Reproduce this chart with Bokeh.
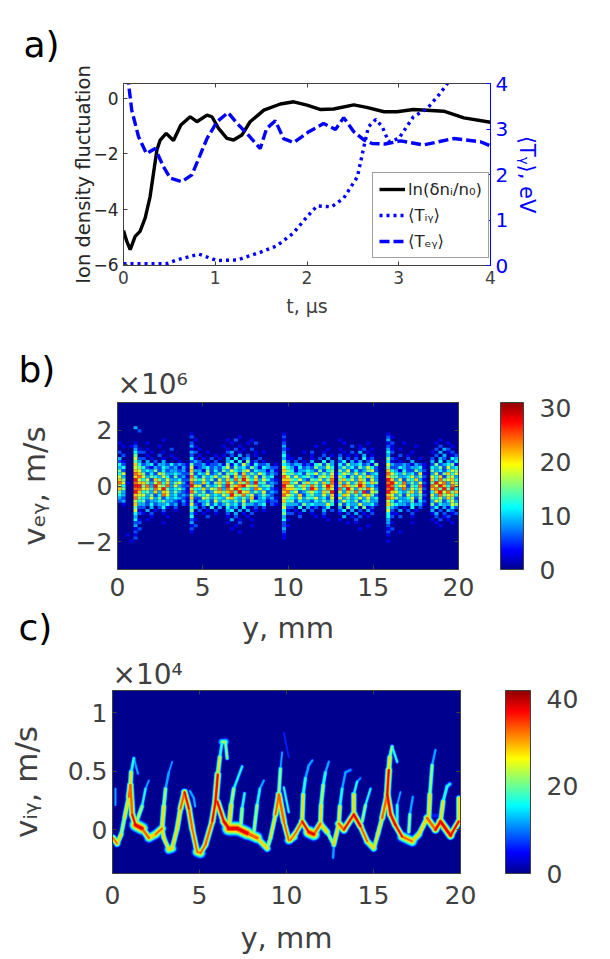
import math
from bokeh.plotting import figure
from bokeh.layouts import column
from bokeh.models import (Range1d, LinearAxis, FixedTicker, Title, Legend, LegendItem, LinearColorMapper,
                          ColorBar, ColumnDataSource)
from bokeh.embed import file_html
from bokeh.resources import INLINE

# ---------- panel a ----------
ni_t = [0,.036,.073,.127,.18,.236,.29,.327,.364,.4,.465,.545,.625,.727,.8,.91,.964,1.036,1.127,1.2,1.29,1.38,1.53,1.71,1.855,2.0,2.15,2.29,2.51,2.65,2.84,2.98,3.16,3.49,3.71,4]
ni_v = [-4.77,-5.16,-5.46,-4.98,-4.8,-4.32,-3.54,-2.7,-1.86,-1.5,-1.26,-1.52,-.96,-.66,-.84,-.6,-.66,-1.08,-1.44,-1.5,-1.32,-.84,-.42,-.2,-.12,-.24,-.4,-.38,-.23,-.32,-.48,-.48,-.4,-.46,-.7,-.86]
tiy_t = [0,.47,.58,.82,1.02,1.24,1.49,1.67,1.85,2,2.11,2.27,2.4,2.55,2.62,2.67,2.75,2.82,2.89,3,3.16,3.31,3.45,3.53,3.6]
tiy_v = [.04,.04,.12,.25,.11,.12,.29,.43,.71,1.07,1.31,1.29,1.48,1.95,2.61,3.05,3.21,3.05,2.72,2.79,3.27,3.45,3.78,4.0,4.3]
tey_t = [.03,.055,.09,.164,.25,.345,.436,.51,.636,.745,.836,.91,1.02,1.14,1.24,1.345,1.49,1.56,1.655,1.745,1.855,2.02,2.18,2.31,2.4,2.51,2.62,2.71,2.85,3.02,3.27,3.6,3.89,4]
tey_v = [4.5,4.0,3.41,2.83,2.46,2.57,2.17,1.92,1.84,1.99,2.43,2.79,3.16,3.36,3.12,2.9,2.57,3.01,3.18,2.79,2.7,2.94,3.12,2.99,3.25,2.94,2.76,2.68,2.67,2.74,2.65,2.79,2.72,2.63]
legend_labels = ["ln(δnᵢ/n₀)", "⟨Tᵢᵧ⟩", "⟨Tₑᵧ⟩"]

# ---------- panel b: counts per cell, one digit = 3 counts, rows from v=+2.2 to -2.2 (x 10^6 m/s) ----------
b_rows = """
00 00 00 00000000000 0 00 0000000000000000000 00 00 00000000000 0 0000000000 00 00 0000000 00 0000000
00 00 30 00000000000 0 00 0000000000000000000 00 00 00000000000 0 0000000000 00 00 0000000 00 0000000
00 00 02 00000000000 0 00 0000000000000000000 00 00 00000000000 0 0000000000 00 00 0000000 00 0000000
00 00 00 00000000000 0 10 0000000000000000000 00 10 00000000000 0 0000000000 00 10 0000000 00 0000000
00 00 00 00000000000 0 20 0000000000100000000 00 20 00000000000 0 0000000000 00 21 0000000 00 0000000
00 00 00 00000100000 0 01 0000000102000100000 00 10 00000000000 0 1000000000 00 30 0000000 00 0010000
10 00 10 01000000000 0 20 0000000010001020000 00 20 00000000100 0 0100000100 00 12 0010000 00 0100100
01 01 20 00001000000 0 31 0000001000100000000 00 30 00000010000 0 0002010000 00 21 0000010 00 0020010
00 00 31 01000002000 0 10 1000000102010200000 00 21 00000000010 0 1000012010 00 31 0100000 00 0203200
20 00 42 20100100000 0 32 0010000230100010100 00 30 00010200100 0 0102030100 00 42 0000100 00 1030120
02 00 50 01002001000 0 20 1000101020302010000 00 41 00000100201 0 2010103010 00 30 0201000 00 0203012
30 00 62 20100100100 0 41 0102010304023002000 00 31 10200102030 0 3020204120 00 52 1002001 00 2032043
21 00 53 03020300010 0 23 2010200340405120100 00 52 02010300403 0 2403130240 00 41 0100300 00 3040324
42 00 74 23413324232 1 52 2312231514263142230 10 43 23312145253 0 4253342315 00 63 2232132 10 2523451
34 00 65 42132432313 1 61 2342324625342531432 20 64 31423253364 0 3534253642 00 52 2432334 10 4352634
52 00 76 34352423323 1 73 3152425364356243313 10 75 41334325245 0 5362423562 00 74 3142253 20 5342465
46 00 87 52426533432 2 62 4362352546273536423 20 64 53425463536 1 4653635234 00 86 4353426 10 3625746
63 00 78 63543642523 1 84 2534635627485362534 00 86 36345325647 1 6425364753 00 75 5334635 20 6472563
75 00 96 46275363342 2 75 4635263748596473642 10 77 54632546358 0 5746375263 00 97 3625473 10 7485674
86 10 87 75368473563 1 83 3742574863758394523 20 88 46257463748 1 7363586475 00 89 6483536 20 5968375
64 00 99 58396583632 2 96 6253463957896573453 00 96 63574853697 1 5875697342 00 98 4672548 10 8697486
75 00 88 67486953453 1 74 4736583869745386342 10 87 75463973586 1 8496375863 00 89 5383647 20 7859594
53 00 97 45373763532 1 85 3523675785967353623 20 78 46235643759 0 6375849265 00 97 6435736 10 4796857
43 00 76 63524863423 2 63 5463436496584623532 00 86 53724533637 1 4763536752 00 76 3526435 20 6385674
32 00 85 43635243432 1 72 2653543674353713423 10 65 43635463426 0 6353463634 00 87 5334625 10 5463752
23 00 64 52334533213 1 51 3342635435362543312 20 74 52433243535 1 3643524533 00 64 2433514 20 3652463
01 00 73 32423342302 1 62 1352423534253323402 10 53 33253433364 0 5243363342 00 75 4332433 10 5243365
00 00 52 20302410200 0 43 0204030423041020200 00 62 20403120240 0 3052405120 00 53 2010402 00 2403142
00 00 61 03010200100 0 50 2010200340303010100 00 41 01030200302 0 2403020310 00 62 0302010 00 3020320
00 00 42 10200100000 0 31 0100100203010200000 00 52 20100100200 0 1020301020 00 41 1000200 00 1302012
00 00 30 00100010000 0 40 0020000102001000000 00 30 00200010100 0 0301020100 00 42 0200100 00 0201200
00 00 41 01000000000 0 21 0000000030100100000 00 41 00000000010 0 1000200000 00 30 0000000 00 1020100
00 00 22 00000100000 0 30 0000000100200000000 00 20 00000000000 0 0010100000 00 31 0000100 00 0100010
00 00 30 00000000000 0 12 0000000001000100000 00 21 00000000000 0 0000000100 00 20 0000000 00 0010000
00 00 12 00000000000 0 20 0000000010000000000 00 30 00000000000 0 0000010000 00 12 0000000 00 0000000
00 00 20 00000000000 0 10 0000000000100000000 00 20 00000000000 0 0000000000 00 20 0100000 00 0000000
00 10 10 00000000000 0 00 0000000000000000000 00 10 00000000000 0 0000000000 00 10 0000000 00 0000000
00 00 20 00000000000 0 00 0000000000000000000 00 10 00000000000 0 0000000000 00 00 0000000 00 0000000
00 01 00 00000000000 0 00 0000000000000000000 00 00 00000000000 0 0000000000 00 10 0000000 00 0000000
00 00 00 00000000000 0 00 0000000000000000000 00 00 00000000000 0 0000000000 00 00 0000000 00 0000000
00 00 00 00000000000 0 00 0000000000000000000 00 00 00000000000 0 0000000000 00 00 0000000 00 0000000
""".strip().splitlines()

# ---------- panel c: ridges as (y mm, v x10^4 m/s, counts) ----------
c_ridges = [
 ([.04,.27,.5,.69,.94,1.03],[-.07,-.12,-.04,.1,.28,.38],[30,30,25,22,30,36]),
 ([1.03,1.07,1.23,1.46],[.38,.49,.61,.48],[30,22,12,10]),
 ([1.03,1.13,1.32,1.7,2.09,2.47,2.85],[.38,.13,.04,.01,-.07,-.04,.01],[36,32,38,38,28,30,32]),
 ([1.32,1.7,1.9,2.09],[.04,.2,.35,.42],[28,18,12,8]),
 ([2.85,2.95,3.05,3.24,3.43],[.01,.2,.35,.49,.58],[28,28,16,10,8]),
 ([2.85,2.95,3.24,3.43,3.72,3.91,4.14,4.39,4.58,4.87,5.06,5.34,5.73,5.92,6.05],[.01,-.07,-.17,-.16,.01,.18,.32,.18,.01,-.19,-.2,-.13,.07,.24,.47],[28,26,26,28,26,30,36,34,32,30,30,32,34,36,36]),
 ([6.05,6.17,6.3,6.49,6.59],[.47,.62,.75,.75,.61],[30,20,14,26,12]),
 ([6.02,6.4,6.69,7.16,7.74,8.31,8.89,9.08,9.37,9.56,9.85,10.13,10.42,10.8],[.24,.07,.01,.01,-.03,-.07,-.16,-.07,.13,.3,.07,-.09,-.06,.04],[34,38,38,40,38,30,26,22,28,36,32,30,28,28]),
 ([9.56,9.65,9.75],[.3,.52,.66],[30,12,8]),
 ([9.85,10.13],[.83,.62],[5,5]),
 ([9.85,10.13],[.36,.15],[14,14]),
 ([6.69,6.82,6.97,7.45],[.01,.21,.35,.54],[32,26,20,10]),
 ([7.36,7.45,7.59],[.01,.18,.31],[26,20,12]),
 ([8.12,8.31,8.47,8.7],[-.03,.21,.35,.42],[26,18,14,8]),
 ([4.45,4.67,4.75],[.33,.27,.2],[12,12,12]),
 ([.17,.17],[.35,.21],[10,10]),
 ([10.23,10.52,10.9,11.28,11.57,11.95,12.34,12.72,13.01,13.3,13.87,14.25,14.64,15.02,15.25,15.5,15.79,15.98,16.26,16.65,17.22,17.61,18.08,18.56,18.85,19.43,19.9],
  [-.09,-.03,.07,-.02,-.04,.05,-.02,-.13,.05,0,.13,.03,-.1,-.16,-.04,.1,.3,.13,.04,-.06,-.1,-.04,.1,0,.07,-.05,.07],
  [30,30,32,38,36,32,24,20,34,32,38,36,28,26,24,28,38,36,38,32,30,26,32,36,38,38,32]),
 ([10.9,10.96,11.09,11.28,11.48],[.07,.3,.44,.55,.59],[30,22,14,12,10]),
 ([11.95,11.99,12.11,12.24,12.43],[.05,.21,.38,.49,.58],[30,24,22,14,10]),
 ([13.01,13.07,13.2,13.39,13.68],[.05,.2,.35,.49,.51],[30,20,14,10,10]),
 ([13.87,13.87,14.06,14.25],[.13,.3,.41,.44],[36,20,10,8]),
 ([14.35,14.54,14.83],[.07,.21,.35],[26,14,14]),
 ([15.79,15.88,15.94,16.07,16.36],[.3,.51,.62,.71,.58],[36,36,20,20,10]),
 ([16.36,16.36,16.55],[.04,.21,.32],[22,12,8]),
 ([17.03,17.09,17.26],[-.02,.13,.28],[24,16,8]),
 ([18.18,18.24,18.37,18.56],[.1,.3,.55,.68],[30,26,16,8]),
 ([18.85,19.0,19.23,19.39],[.07,.24,.37,.39],[34,20,16,14]),
 ([19.9,19.9],[.07,.27],[30,24]),
 ([12.72,12.68],[-.13,-.24],[16,8]),
 ([18.2,18.7],[.12,.12],[8,8]),
]

FONT = "DejaVu Sans"
GREY = "#404040"
BLUE = "#0000ff"

def jet(n=256):
    out = []
    for i in range(n):
        t = .016 + .968 * i / (n - 1)
        ch = []
        for c in (0.75, 0.5, 0.25):
            ch.append(int(255 * max(0.0, min(1.0, 1.5 - 4 * abs(t - c)))))
        out.append("#%02x%02x%02x" % tuple(ch))
    return out
JET = jet()

def style_axis(ax, size, color=GREY, ticks=None, label_size=None):
    ax.axis_line_color = GREY
    ax.major_tick_line_color = GREY
    ax.major_tick_in = 4
    ax.major_tick_out = 0
    ax.minor_tick_line_color = None
    ax.major_label_text_font = FONT
    ax.major_label_text_font_size = size
    ax.major_label_text_color = color
    ax.axis_label_text_font = FONT
    ax.axis_label_text_font_style = "normal"
    ax.axis_label_text_color = color
    ax.axis_label_text_font_size = label_size or size
    if ticks is not None:
        ax.ticker = FixedTicker(ticks=ticks)

def box(p, xt, yt):
    top = LinearAxis(ticker=FixedTicker(ticks=xt), major_label_text_color=None, major_label_text_font_size="0px")
    top.axis_line_color = GREY; top.major_tick_in = 4; top.major_tick_out = 0
    top.minor_tick_line_color = None; top.major_tick_line_color = GREY
    p.add_layout(top, "above")
    if yt is not None:
        r = LinearAxis(ticker=FixedTicker(ticks=yt), major_label_text_color=None, major_label_text_font_size="0px")
        r.axis_line_color = GREY; r.major_tick_in = 4; r.major_tick_out = 0
        r.minor_tick_line_color = None; r.major_tick_line_color = GREY
        p.add_layout(r, "right")

def tag(p, text, offset, standoff, size="36px", color="#000000", where="above", valign="bottom"):
    p.add_layout(Title(text=text, align="left", offset=offset, standoff=standoff, text_font=FONT,
                       text_font_size=size, text_color=color, text_font_style="normal",
                       vertical_align=valign), where)

# ---------- figure a ----------
pa = figure(width=600, height=340, frame_width=367, frame_height=182, x_range=Range1d(0, 4),
            y_range=Range1d(-6.03, .54), output_backend="svg", toolbar_location=None, frame_align=False,
            min_border_left=123, min_border_right=110, min_border_top=83, min_border_bottom=75,
            x_axis_label="t, μs", y_axis_label="Ion density fluctuation")
pa.grid.visible = False
pa.outline_line_color = GREY
pa.extra_y_ranges = {"T": Range1d(0, 4)}
style_axis(pa.xaxis[0], "17px", ticks=[0, 1, 2, 3, 4], label_size="19px")
style_axis(pa.yaxis[0], "17px", ticks=[-6, -4, -2, 0], color="#262626", label_size="19.5px")
pa.yaxis[0].axis_label_standoff = -5
pa.xaxis[0].axis_label_standoff = 8
box(pa, [0, 1, 2, 3, 4], None)
ra = LinearAxis(y_range_name="T", axis_label="⟨Tᵧ⟩, eV")
style_axis(ra, "20px", color=BLUE, ticks=[0, 1, 2, 3, 4], label_size="21px")
ra.axis_line_color = BLUE; ra.major_tick_line_color = BLUE
ra.axis_label_standoff = 4
pa.add_layout(ra, "right")
r1 = pa.line(ni_t, ni_v, line_color="#000000", line_width=3.4)
r2 = pa.line(tiy_t, tiy_v, y_range_name="T", line_color=BLUE, line_width=3.4, line_dash="3 4")
r3 = pa.line(tey_t, tey_v, y_range_name="T", line_color=BLUE, line_width=3.4, line_dash="10 4")
lg = Legend(items=[LegendItem(label=l, renderers=[r]) for l, r in zip(legend_labels, [r1, r2, r3])],
            location=(249, 7), label_text_font=FONT, label_text_font_size="16.5px", label_text_color="#262626",
            glyph_width=26, glyph_height=20, label_height=20, spacing=6, padding=6, margin=0, label_standoff=3,
            border_line_color=GREY, border_line_width=1, background_fill_alpha=1)
pa.add_layout(lg, "center")
tag(pa, "a)", -100, 36, valign="middle")

# ---------- figure b ----------
pb = figure(width=600, height=315, frame_width=341, frame_height=167, x_range=Range1d(0, 20),
            y_range=Range1d(-3, 3), output_backend="svg", toolbar_location=None, frame_align=False,
            min_border_left=117, min_border_right=142, min_border_top=62, min_border_bottom=86,
            x_axis_label="y, mm", y_axis_label="vₑᵧ, m/s", background_fill_color=JET[0])
pb.grid.visible = False
pb.outline_line_color = GREY
style_axis(pb.xaxis[0], "25px", ticks=[0, 5, 10, 15, 20], label_size="29px")
style_axis(pb.yaxis[0], "25px", ticks=[-2, 0, 2], label_size="31px")
pb.yaxis[0].axis_label_standoff = 21
pb.xaxis[0].axis_label_standoff = 12
pb.xaxis[0].major_label_standoff = 8
box(pb, [0, 5, 10, 15, 20], [-2, 0, 2])
mb = LinearColorMapper(palette=JET, low=0, high=31)
bx, by, bc = [], [], []
dx, dv = 20 / 85, .11
for r, row in enumerate(b_rows):
    row = row.replace(" ", "").ljust(85, "0")[:85]
    for i, ch in enumerate(row):
        if ch != "0":
            bx.append((i + .5) * dx); by.append(2.2 - r * dv); bc.append(int(ch) * 3)
pb.rect(x="x", y="y", width=dx, height=dv, source=ColumnDataSource(dict(x=bx, y=by, c=bc)),
        fill_color={"field": "c", "transform": mb}, line_color=None)
cbb = ColorBar(color_mapper=mb, location=(383, 0), width=23, height=167, padding=0, margin=0,
               ticker=FixedTicker(ticks=[0, 10, 20, 30]), major_label_text_font=FONT,
               major_label_text_font_size="25px", major_label_text_color=GREY, major_tick_line_color=None,
               bar_line_color=GREY, label_standoff=16, background_fill_color=None)
pb.add_layout(cbb, "center")
tag(pb, "×10⁶", 0, 4, size="28px", color=GREY)
tag(pb, "b)", -99, -53)
tag(pb, "c)", -99, -82, where="below", valign="top")

# ---------- figure c ----------
pc = figure(width=600, height=301, frame_width=348, frame_height=183, x_range=Range1d(0, 20),
            y_range=Range1d(-.375, 1.19), output_backend="svg", toolbar_location=None, frame_align=False,
            min_border_left=112, min_border_right=140, min_border_top=34, min_border_bottom=84,
            x_axis_label="y, mm", y_axis_label="vᵢᵧ, m/s", background_fill_color=JET[0])
pc.grid.visible = False
pc.outline_line_color = GREY
style_axis(pc.xaxis[0], "25px", ticks=[0, 5, 10, 15, 20], label_size="29px")
style_axis(pc.yaxis[0], "25px", ticks=[0, .5, 1], label_size="31px")
pc.yaxis[0].major_label_overrides = {0: "0", .5: "0.5", 1: "1"}
pc.yaxis[0].axis_label_standoff = 21
pc.xaxis[0].axis_label_standoff = 14
pc.xaxis[0].major_label_standoff = 12
box(pc, [0, 5, 10, 15, 20], [0, .5, 1])
mc = LinearColorMapper(palette=JET, low=0, high=42)
layers = [3, 9, 14, 19, 25, 30, 35]
for thr in layers:
    x0, y0, x1, y1, w = [], [], [], [], []
    for xs, vs, ls in c_ridges:
        for k in range(len(xs) - 1):
            lev = (ls[k] + ls[k + 1]) / 2
            if lev >= thr:
                x0.append(xs[k]); y0.append(vs[k]); x1.append(xs[k + 1]); y1.append(vs[k + 1])
                # the ridge spreads in velocity, so it looks thin where it climbs steeply
                slope = abs((vs[k + 1] - vs[k]) * 117.5) / max(abs((xs[k + 1] - xs[k]) * 17.4), .1)
                w.append(1.5 + (lev - thr) * .42 * max(.5, 1 / math.sqrt(1 + slope * slope)))
    pc.segment(x0="x0", y0="y0", x1="x1", y1="y1",
               source=ColumnDataSource(dict(x0=x0, y0=y0, x1=x1, y1=y1, w=w, c=[thr + 3] * len(x0))),
               line_color={"field": "c", "transform": mc}, line_width="w", line_cap="round")
cbc = ColorBar(color_mapper=mc, location=(393, 0), width=25, height=183, padding=0, margin=0,
               ticker=FixedTicker(ticks=[0, 20, 40]), major_label_text_font=FONT,
               major_label_text_font_size="25px", major_label_text_color=GREY, major_tick_line_color=None,
               bar_line_color=GREY, label_standoff=16, background_fill_color=None)
pc.add_layout(cbc, "center")
tag(pc, "×10⁴", 0, 0, size="28px", color=GREY)

open("out.html", "w").write(file_html(column(pa, pb, pc, spacing=0), INLINE))
